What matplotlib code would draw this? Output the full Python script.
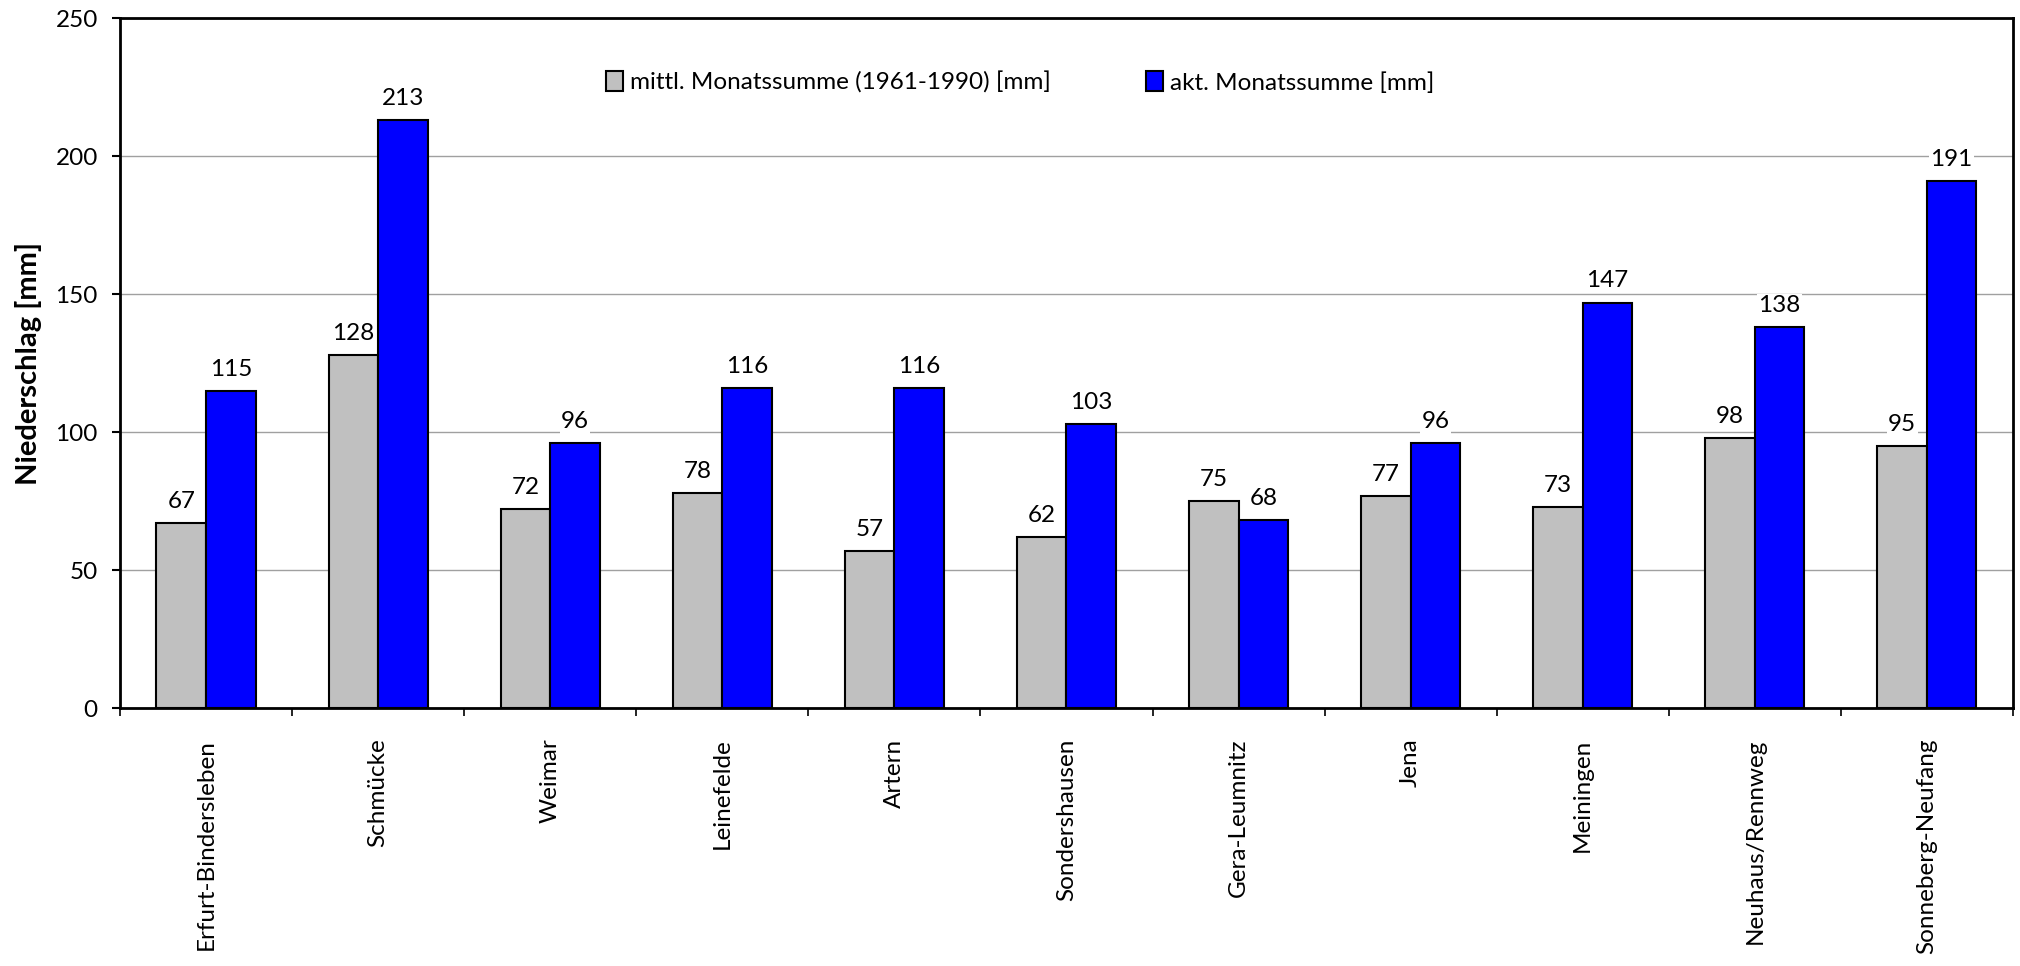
import matplotlib
matplotlib.use("Agg")
import matplotlib.pyplot as plt
import numpy as np
from matplotlib.patches import Patch

stations = ["Erfurt-Bindersleben", "Schmücke", "Weimar", "Leinefelde", "Artern",
            "Sondershausen", "Gera-Leumnitz", "Jena", "Meiningen",
            "Neuhaus/Rennweg", "Sonneberg-Neufang"]
mean_1961_1990 = [67, 128, 72, 78, 57, 62, 75, 77, 73, 98, 95]
current = [115, 213, 96, 116, 116, 103, 68, 96, 147, 138, 191]
label_mean = "mittl. Monatssumme (1961-1990) [mm]"
label_cur = "akt. Monatssumme [mm]"
ylabel = "Niederschlag [mm]"
yticks = [0, 50, 100, 150, 200, 250]

plt.rcParams['font.family'] = ['Lato', 'DejaVu Sans']

fig = plt.figure(figsize=(20.2, 9.66), dpi=100)
ax = fig.add_axes([0.0594, 0.267, 0.9371, 0.714])

x = np.arange(len(stations))
w = 0.288
grey = "#C0C0C0"
blue = "#0000FF"
b1 = ax.bar(x - w/2, mean_1961_1990, w, color=grey, edgecolor="black", linewidth=1.5, zorder=3)
b2 = ax.bar(x + w/2, current, w, color=blue, edgecolor="black", linewidth=1.5, zorder=3)

for bars, vals in ((b1, mean_1961_1990), (b2, current)):
    for r, v in zip(bars, vals):
        ax.annotate(str(v), (r.get_x() + r.get_width()/2, v), xytext=(0, 8),
                    textcoords="offset points", ha="center", va="bottom",
                    fontsize=17.5, zorder=4,
                    bbox=dict(facecolor="white", edgecolor="none", pad=1))

ax.set_xlim(-0.5, len(stations) - 0.5)
ax.set_ylim(0, 250)
ax.set_yticks(yticks)
ax.set_yticklabels([str(t) for t in yticks], fontsize=17.5)
ax.tick_params(axis="y", direction="out", length=6, width=1.5, pad=10)
ax.yaxis.grid(True, color="#A0A0A0", linewidth=1.0, zorder=0)
ax.set_axisbelow(True)

ax.set_xticks(x)
ax.set_xticklabels(stations, rotation=90, fontsize=17.5, va="top", ha="center")
ax.tick_params(axis="x", which="major", length=0, pad=22)
ax.set_xticks(np.arange(-0.5, len(stations) + 0.5, 1), minor=True)
ax.tick_params(axis="x", which="minor", direction="out", length=6, width=1.2)

for s in ax.spines.values():
    s.set_linewidth(2)

ax.set_ylabel(ylabel, fontsize=21, fontweight="bold")
ax.yaxis.set_label_coords(-0.041, 0.5)

handles = [Patch(facecolor=grey, edgecolor="black", linewidth=1.5),
           Patch(facecolor=blue, edgecolor="black", linewidth=1.5)]
leg = ax.legend(handles, [label_mean, label_cur], ncol=2, frameon=False,
                fontsize=17.5, loc="upper left", bbox_to_anchor=(0.245, 0.955),
                handlelength=0.7, handleheight=0.9, handletextpad=0.3,
                columnspacing=3.9)

fig.savefig("out.png", dpi=100)
